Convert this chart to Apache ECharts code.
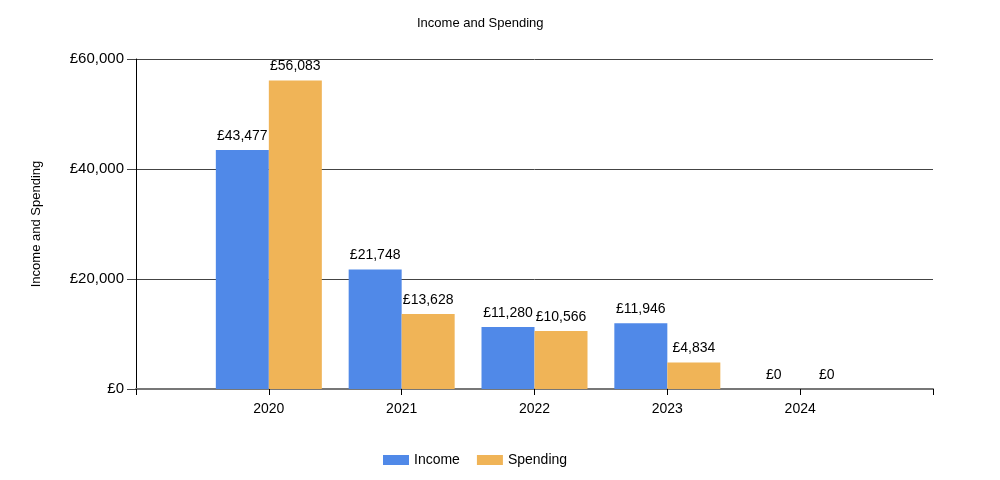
<!DOCTYPE html>
<html>
<head>
<meta charset="utf-8">
<script src="https://cdn.jsdelivr.net/npm/echarts@6/dist/echarts.min.js"></script>
<style>html,body{margin:0;padding:0;background:#fff}#c{width:1000px;height:480px}</style>
</head>
<body>
<div id="c"></div>
<script>
var categories = ['2020', '2021', '2022', '2023', '2024'];
var income = [43477, 21748, 11280, 11946, 0];
var spending = [56083, 13628, 10566, 4834, 0];
var yTicks = [0, 20000, 40000, 60000];

function fmt(v) { return '£' + Math.round(v).toLocaleString('en-GB'); }
var font = 'Liberation Sans';
var chart = echarts.init(document.getElementById('c'));
chart.setOption({
  animation: false,
  backgroundColor: '#fff',
  title: {
    text: 'Income and Spending', left: 412, top: 12,
    textStyle: { fontFamily: font, fontSize: 13, fontWeight: 'normal', color: '#000' }
  },
  legend: {
    top: 448, left: 378, itemWidth: 26, itemHeight: 10, itemGap: 17,
    icon: 'rect',
    textStyle: { fontFamily: font, fontSize: 14, color: '#000' },
    data: ['Income', 'Spending']
  },
  grid: { left: 136, right: 67, top: 59, bottom: 91 },
  xAxis: {
    type: 'value', min: 0, max: categories.length + 1, interval: 1,
    splitLine: { show: false },
    axisLine: { show: true, lineStyle: { color: '#777', width: 2 } },
    axisTick: { show: true, length: 6, lineStyle: { color: '#000' } },
    axisLabel: {
      fontFamily: font, fontSize: 14, color: '#000', margin: 13,
      formatter: function (v) { return categories[v - 1] || ''; }
    }
  },
  yAxis: {
    type: 'value', min: yTicks[0], max: yTicks[yTicks.length - 1], interval: 20000,
    name: 'Income and Spending', nameLocation: 'middle', nameGap: 93,
    nameTextStyle: { fontFamily: font, fontSize: 13, color: '#000' },
    axisLine: { show: true, lineStyle: { color: '#000', width: 1 } },
    axisTick: { show: true, length: 9, lineStyle: { color: '#444' } },
    splitLine: { show: true, lineStyle: { color: '#444', width: 1 } },
    axisLabel: { fontFamily: font, fontSize: 15, color: '#000', margin: 12, formatter: fmt }
  },
  series: [
    {
      name: 'Income', type: 'bar', barWidth: 53, barGap: '0%',
      itemStyle: { color: '#5089E8' },
      label: { show: true, position: 'top', distance: 7, fontFamily: font, fontSize: 14, color: '#000',
        formatter: function (p) { return fmt(p.value[1]); } },
      data: income.map(function (v, i) { return [i + 1, v]; })
    },
    {
      name: 'Spending', type: 'bar', barWidth: 53, barGap: '0%',
      itemStyle: { color: '#F0B457' },
      label: { show: true, position: 'top', distance: 7, fontFamily: font, fontSize: 14, color: '#000',
        formatter: function (p) { return fmt(p.value[1]); } },
      data: spending.map(function (v, i) { return [i + 1, v]; })
    }
  ]
});
</script>
</body>
</html>
